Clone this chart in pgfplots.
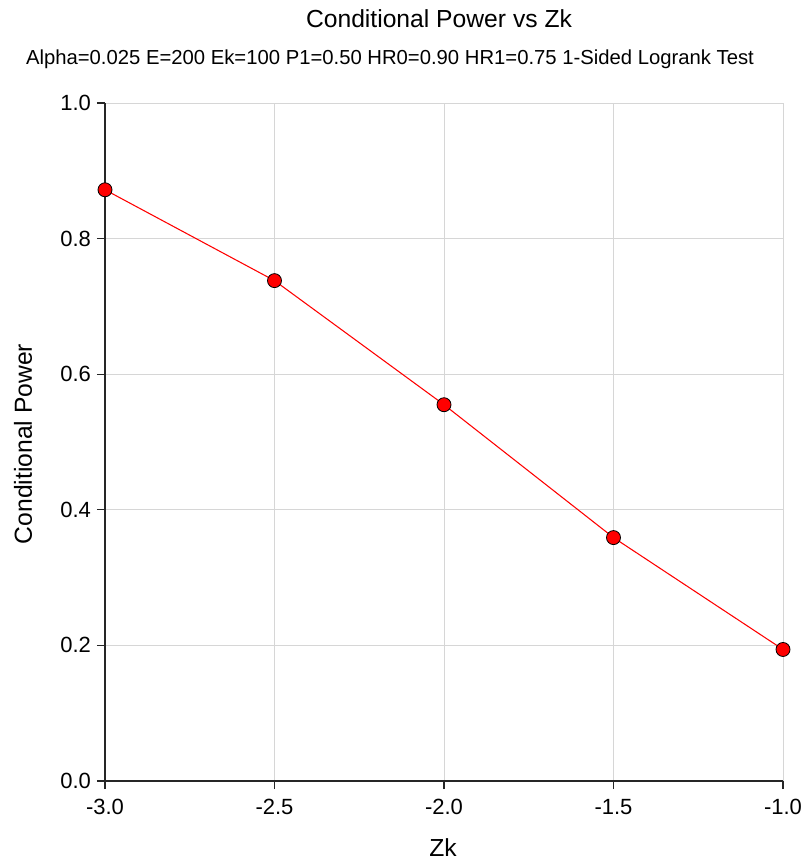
\documentclass[border=0pt]{standalone}
\usepackage{pgfplots}
\pgfplotsset{compat=1.18}
\usepackage{fontspec}
\setmainfont{Liberation Sans}
\begin{document}
\begin{tikzpicture}
\useasboundingbox (-78.75pt,-59.25pt) rectangle (521.25pt,585.75pt);
\begin{axis}[
  at={(0,0)}, anchor=south west,
  scale only axis, width=508.5pt, height=508.5pt,
  xmin=-3, xmax=-1, ymin=0, ymax=1,
  axis lines=left,
  axis line style={-, line width=1.1pt, color=black!85},
  xtick={-3,-2.5,-2,-1.5,-1},
  xticklabels={{-3.0},{-2.5},{-2.0},{-1.5},{-1.0}},
  ytick={0,0.2,0.4,0.6,0.8,1.0},
  yticklabels={0.0,0.2,0.4,0.6,0.8,1.0},
  tick align=outside, major tick length=6pt,
  tick style={black!85, line width=0.8pt},
  grid=major, major grid style={black!16, line width=0.7pt},
  ticklabel style={font=\fontsize{16.5}{18}\selectfont, text=black},
  xticklabel style={yshift=-4pt},
  yticklabel style={xshift=-1pt},
  clip=false,
]
\addplot[red, line width=0.8pt, mark=*, mark size=5.25pt,
  mark options={fill=red, draw=black, line width=0.6pt}]
  coordinates {(-3,0.872) (-2.5,0.738) (-2,0.555) (-1.5,0.359) (-1,0.194)};
\end{axis}
\node[font=\fontsize{18.5}{20}\selectfont, anchor=base] at (250.5pt,564.75pt) {Conditional Power vs Zk};
\node[font=\fontsize{15.2}{17}\selectfont, anchor=base] at (213.75pt,537pt) {Alpha=0.025 E=200 Ek=100 P1=0.50 HR0=0.90 HR1=0.75 1-Sided Logrank Test};
\node[rotate=90, font=\fontsize{18.5}{20}\selectfont] at (-61.5pt,252.75pt) {Conditional Power};
\node[anchor=base, font=\fontsize{18.5}{20}\selectfont] at (253.5pt,-56.25pt) {Zk};
\end{tikzpicture}
\end{document}
